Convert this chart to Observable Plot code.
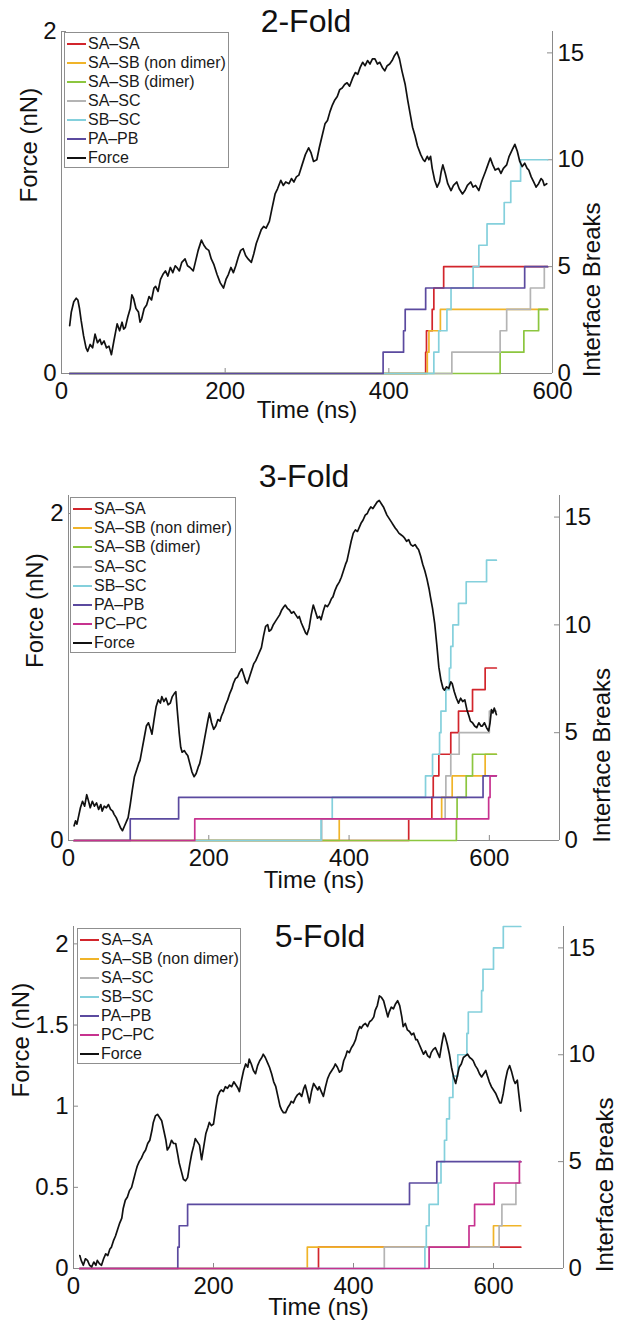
<!DOCTYPE html>
<html><head><meta charset="utf-8">
<script src="https://cdn.jsdelivr.net/npm/d3@7"></script>
<script src="https://cdn.jsdelivr.net/npm/@observablehq/plot@0.6"></script>
<style>
body{margin:0;background:#fff;}
#page{position:relative;width:629px;height:1320px;overflow:hidden;font-family:"Liberation Sans",Arial,Helvetica,sans-serif;background:#fff;}
.panel{position:absolute;left:0;width:629px;overflow:hidden;}
.title{position:absolute;width:240px;text-align:center;font-size:32px;line-height:32px;color:#111;}
.legend{position:absolute;box-sizing:border-box;border:1px solid #8f8f8f;background:#fff;padding-top:1.5px;}
.row{display:flex;align-items:center;font-size:16px;color:#1a1a1a;white-space:nowrap;}
.swatch{width:19px;height:2px;margin-left:2px;margin-right:2px;flex:none;}
</style></head><body><div id="page"></div><script>
// ---------- data ----------
const xTicks = [0, 200, 400, 600];
const breakTicks = [0, 5, 10, 15];
const forceTicks12 = [0, 2];
const forceTicks3 = [0, 0.5, 1, 1.5, 2];

const colors = {
  "SA–SA": "#d2252c",
  "SA–SB (non dimer)": "#f0b429",
  "SA–SB (dimer)": "#8cc63f",
  "SA–SC": "#b4b4b4",
  "SB–SC": "#84d0dc",
  "PA–PB": "#5b4a9f",
  "PC–PC": "#c7328f",
  "Force": "#111111"
};

// 2-Fold
const force2 = [[10,0.28],[12,0.36],[15,0.42],[18,0.44],[20,0.43],[22,0.38],[24,0.31],[27,0.22],[30,0.15],[32,0.13],[35,0.17],[38,0.15],[41,0.23],[44,0.18],[47,0.2],[49,0.17],[52,0.19],[55,0.15],[58,0.16],[61,0.11],[64,0.19],[66,0.24],[68,0.29],[71,0.25],[74,0.3],[76,0.26],[78,0.27],[81,0.33],[84,0.38],[86,0.46],[88,0.44],[91,0.38],[94,0.36],[96,0.3],[98,0.32],[101,0.38],[104,0.4],[107,0.45],[110,0.43],[113,0.5],[115,0.51],[118,0.48],[121,0.55],[124,0.58],[127,0.6],[130,0.57],[133,0.62],[136,0.59],[139,0.63],[141,0.62],[144,0.6],[147,0.65],[151,0.67],[154,0.63],[157,0.62],[161,0.6],[164,0.66],[167,0.72],[171,0.78],[174,0.75],[177,0.73],[180,0.72],[183,0.67],[186,0.64],[190,0.58],[194,0.53],[198,0.5],[201,0.55],[204,0.58],[207,0.62],[210,0.59],[213,0.63],[216,0.68],[219,0.72],[222,0.73],[225,0.69],[228,0.67],[232,0.65],[235,0.7],[238,0.76],[241,0.8],[244,0.84],[247,0.86],[250,0.85],[254,0.89],[257,0.96],[261,1.05],[264,1.08],[268,1.13],[271,1.1],[274,1.12],[278,1.11],[281,1.14],[284,1.12],[287,1.15],[290,1.16],[294,1.22],[298,1.28],[302,1.32],[305,1.29],[308,1.24],[312,1.25],[315,1.32],[318,1.38],[322,1.46],[325,1.48],[328,1.53],[331,1.57],[334,1.6],[337,1.62],[340,1.66],[343,1.67],[346,1.69],[349,1.7],[352,1.68],[356,1.73],[359,1.76],[362,1.75],[365,1.79],[368,1.82],[371,1.8],[374,1.83],[377,1.81],[380,1.84],[383,1.84],[386,1.81],[389,1.82],[392,1.79],[395,1.77],[398,1.8],[401,1.81],[404,1.83],[407,1.86],[410,1.88],[413,1.84],[416,1.77],[420,1.69],[423,1.6],[426,1.52],[429,1.44],[432,1.39],[435,1.33],[439,1.28],[442,1.25],[444,1.24],[447,1.27],[449,1.25],[451,1.27],[453,1.2],[456,1.13],[459,1.09],[462,1.12],[464,1.18],[466,1.22],[469,1.17],[472,1.11],[476,1.07],[479,1.1],[483,1.12],[486,1.08],[490,1.05],[493,1.07],[496,1.1],[500,1.12],[503,1.09],[506,1.1],[510,1.07],[514,1.13],[518,1.18],[521,1.22],[524,1.26],[527,1.22],[530,1.19],[534,1.2],[537,1.17],[540,1.2],[544,1.22],[547,1.27],[551,1.31],[554,1.34],[557,1.3],[560,1.24],[563,1.21],[566,1.23],[569,1.2],[571,1.19],[574,1.15],[577,1.12],[580,1.09],[583,1.11],[586,1.14],[588,1.13],[590,1.1],[593,1.11]];
const breaks2 = [
  ["SA–SA", [[10,0],[445,1],[446,2],[453,3],[455,4],[467,5],[594,5]]],
  ["SA–SB (non dimer)", [[10,0],[447,1],[449,2],[463,3],[594,3]]],
  ["SA–SB (dimer)", [[10,0],[536,1],[565,2],[583,3],[594,3]]],
  ["SA–SC", [[10,0],[477,1],[536,2],[544,3],[573,4],[590,5],[594,5]]],
  ["SB–SC", [[10,0],[455,1],[461,2],[471,3],[476,4],[503,5],[510,6],[520,7],[541,8],[549,9],[561,10],[594,10]]],
  ["PA–PB", [[10,0],[393,1],[418,2],[420,3],[445,4],[566,5],[594,5]]]
];

// 3-Fold
const force3 = [[8,0.09],[10,0.12],[12,0.1],[14,0.14],[17,0.2],[20,0.24],[23,0.21],[26,0.28],[28,0.25],[31,0.2],[34,0.24],[37,0.21],[40,0.23],[43,0.19],[46,0.22],[48,0.18],[51,0.21],[54,0.2],[57,0.22],[60,0.19],[63,0.18],[65,0.16],[68,0.14],[71,0.11],[74,0.08],[77,0.06],[80,0.09],[83,0.12],[85,0.14],[88,0.22],[91,0.31],[94,0.39],[97,0.43],[100,0.47],[102,0.49],[105,0.56],[108,0.63],[111,0.7],[114,0.72],[117,0.68],[119,0.65],[122,0.74],[125,0.82],[128,0.86],[131,0.84],[133,0.88],[136,0.85],[139,0.87],[142,0.83],[145,0.84],[148,0.88],[151,0.9],[153,0.91],[155,0.8],[158,0.65],[160,0.57],[162,0.54],[165,0.55],[168,0.53],[170,0.52],[173,0.47],[176,0.42],[179,0.39],[182,0.41],[185,0.45],[187,0.47],[190,0.53],[193,0.6],[196,0.67],[199,0.74],[201,0.78],[204,0.72],[207,0.68],[210,0.7],[213,0.74],[216,0.73],[218,0.76],[221,0.79],[224,0.83],[227,0.86],[230,0.9],[233,0.93],[235,0.96],[238,0.99],[241,1.0],[244,1.03],[247,1.05],[250,1.01],[253,0.97],[255,0.96],[258,1.0],[261,1.04],[264,1.08],[267,1.1],[270,1.13],[273,1.16],[275,1.18],[278,1.25],[281,1.31],[284,1.32],[286,1.28],[289,1.29],[292,1.32],[295,1.34],[298,1.36],[301,1.38],[304,1.41],[307,1.43],[309,1.44],[312,1.42],[315,1.41],[318,1.39],[321,1.4],[324,1.38],[327,1.36],[329,1.37],[332,1.33],[335,1.3],[338,1.27],[340,1.26],[343,1.3],[346,1.38],[349,1.44],[352,1.4],[355,1.36],[358,1.37],[360,1.35],[363,1.4],[366,1.44],[369,1.43],[372,1.45],[375,1.48],[377,1.49],[380,1.53],[383,1.56],[386,1.58],[389,1.61],[392,1.65],[395,1.69],[397,1.71],[400,1.77],[403,1.83],[406,1.88],[409,1.9],[412,1.89],[415,1.92],[417,1.94],[420,1.96],[423,1.99],[426,2.0],[428,2.02],[431,2.04],[434,2.03],[437,2.05],[440,2.07],[443,2.08],[446,2.06],[449,2.04],[452,2.01],[454,1.99],[457,1.97],[460,1.95],[463,1.93],[466,1.91],[468,1.9],[471,1.88],[474,1.87],[477,1.86],[479,1.85],[482,1.83],[485,1.84],[488,1.81],[491,1.8],[494,1.81],[497,1.79],[499,1.78],[502,1.74],[505,1.69],[508,1.65],[511,1.6],[514,1.54],[516,1.49],[519,1.42],[522,1.33],[525,1.2],[528,1.06],[531,0.98],[534,0.93],[536,0.92],[539,0.94],[542,0.93],[545,0.97],[547,0.96],[550,0.91],[553,0.87],[556,0.84],[559,0.87],[562,0.85],[565,0.86],[568,0.8],[571,0.76],[573,0.73],[576,0.72],[579,0.7],[582,0.69],[585,0.72],[588,0.7],[590,0.7],[593,0.72],[596,0.69],[599,0.67],[601,0.72],[603,0.8],[605,0.78],[607,0.81],[610,0.77]];
const breaks3 = [
  ["SA–SA", [[8,0],[485,1],[518,2],[520,3],[528,4],[545,5],[556,6],[576,7],[594,8],[610,8]]],
  ["SA–SB (non dimer)", [[8,0],[386,1],[532,2],[547,3],[594,4],[610,4]]],
  ["SA–SB (dimer)", [[8,0],[553,1],[554,2],[567,3],[576,4],[610,4]]],
  ["SA–SC", [[8,0],[361,1],[537,2],[538,3],[545,4],[557,5],[600,6],[610,6]]],
  ["SB–SC", [[8,0],[360,1],[376,2],[509,3],[519,4],[529,5],[531,6],[538,7],[543,8],[545,9],[548,10],[556,11],[567,12],[596,13],[610,13]]],
  ["PA–PB", [[8,0],[88,1],[157,2],[591,3],[610,3]]],
  ["PC–PC", [[8,0],[180,1],[599,2],[601,3],[610,3]]]
];

// 5-Fold
const force5 = [[9,0.08],[11,0.05],[14,0.02],[17,0.06],[20,0.05],[23,0.02],[26,0.01],[29,0.04],[32,0.02],[34,0.05],[37,0.03],[40,0.02],[43,0.06],[46,0.09],[49,0.08],[52,0.12],[54,0.13],[57,0.17],[60,0.2],[63,0.24],[66,0.28],[69,0.31],[71,0.37],[74,0.42],[77,0.44],[80,0.48],[83,0.5],[86,0.55],[89,0.6],[91,0.63],[94,0.66],[97,0.68],[100,0.71],[103,0.73],[106,0.77],[109,0.79],[112,0.85],[114,0.9],[117,0.94],[120,0.95],[123,0.93],[126,0.91],[129,0.85],[132,0.79],[134,0.73],[137,0.75],[140,0.79],[143,0.77],[146,0.77],[149,0.7],[151,0.65],[154,0.6],[157,0.55],[160,0.54],[163,0.56],[166,0.64],[169,0.71],[172,0.76],[174,0.8],[177,0.78],[180,0.76],[183,0.67],[186,0.75],[189,0.83],[192,0.87],[194,0.9],[197,0.88],[200,0.89],[203,0.98],[206,1.06],[209,1.09],[211,1.1],[214,1.09],[217,1.12],[220,1.11],[223,1.13],[226,1.12],[229,1.15],[232,1.13],[235,1.11],[237,1.09],[240,1.16],[243,1.22],[246,1.26],[249,1.24],[251,1.29],[254,1.26],[257,1.22],[260,1.2],[263,1.25],[266,1.28],[269,1.3],[271,1.32],[274,1.3],[277,1.27],[280,1.24],[283,1.2],[286,1.15],[289,1.12],[292,1.06],[295,1.0],[297,0.98],[300,0.96],[303,0.96],[306,0.99],[309,1.01],[311,1.03],[314,1.02],[317,1.05],[320,1.07],[323,1.08],[326,1.06],[329,1.11],[331,1.13],[334,1.08],[337,1.02],[340,1.09],[343,1.14],[346,1.12],[349,1.1],[351,1.12],[354,1.09],[357,1.06],[360,1.12],[363,1.17],[366,1.2],[369,1.22],[372,1.24],[374,1.26],[377,1.24],[380,1.21],[383,1.22],[386,1.28],[389,1.31],[391,1.34],[394,1.33],[397,1.36],[400,1.38],[403,1.41],[406,1.46],[409,1.49],[411,1.48],[414,1.5],[417,1.51],[420,1.49],[423,1.52],[426,1.53],[429,1.55],[431,1.59],[434,1.62],[437,1.68],[440,1.67],[443,1.65],[446,1.6],[449,1.55],[451,1.58],[454,1.61],[457,1.6],[460,1.63],[463,1.65],[466,1.62],[469,1.55],[471,1.49],[474,1.51],[477,1.47],[480,1.46],[483,1.44],[486,1.45],[489,1.41],[491,1.41],[494,1.38],[497,1.35],[500,1.32],[503,1.34],[506,1.31],[509,1.3],[511,1.33],[514,1.35],[517,1.36],[520,1.33],[523,1.3],[526,1.38],[529,1.45],[531,1.43],[534,1.38],[537,1.32],[540,1.24],[543,1.18],[546,1.14],[549,1.2],[551,1.24],[554,1.26],[557,1.3],[560,1.31],[563,1.32],[566,1.3],[569,1.29],[571,1.28],[574,1.25],[577,1.23],[580,1.2],[583,1.18],[586,1.2],[589,1.22],[591,1.19],[594,1.15],[597,1.12],[600,1.1],[603,1.08],[606,1.05],[609,1.02],[611,1.02],[614,1.08],[617,1.16],[620,1.22],[623,1.25],[626,1.21],[629,1.16],[631,1.14],[634,1.16],[636,1.08],[639,0.97]];
const breaks5 = [
  ["SA–SA", [[9,0],[350,1],[639,1]]],
  ["SA–SB (non dimer)", [[9,0],[334,1],[600,2],[639,2]]],
  ["SA–SC", [[9,0],[444,1],[608,2],[612,3],[632,4],[639,4]]],
  ["SB–SC", [[9,0],[502,1],[504,2],[508,3],[521,4],[525,5],[530,6],[533,7],[537,8],[542,9],[549,10],[562,11],[564,12],[583,13],[585,14],[600,15],[614,16],[639,16]]],
  ["PA–PB", [[9,0],[149,1],[151,2],[163,3],[480,4],[519,5],[639,5]]],
  ["PC–PC", [[9,0],[508,1],[565,2],[573,3],[601,4],[637,5],[639,5]]]
];

// ---------- layout ----------
const panels = [
  {title:"2-Fold", force:force2, breaks:breaks2, xmax:600, fmax:2, fticks:forceTicks12,
   top:0, height:430, ml:61, mr:77, mt:31, mb:57, fdx:-32, bdx:40, tdy:27,
   titleCx:306, titleTop:5, leg:{left:64, top:32, width:165, row:19}},
  {title:"3-Fold", force:force3, breaks:breaks3, xmax:700, fmax:2.11, fticks:forceTicks12,
   top:440, height:456, ml:68, mr:70, mt:55, mb:56, fdx:-33, bdx:43, tdy:30,
   titleCx:304, titleTop:460, leg:{left:70, top:497, width:166, row:19.2}},
  {title:"5-Fold", force:force5, breaks:breaks5, xmax:700, fmax:2.107, fticks:forceTicks3,
   top:896, height:424, ml:73, mr:66, mt:30, mb:52, fdx:-52, bdx:42, tdy:29,
   titleCx:320, titleTop:920, leg:{left:77, top:928, width:164, row:19}}
];

const page = document.getElementById("page");
const axisGray = "#8a8a8a";

for (const p of panels) {
  const k = p.fmax / 16;
  const W = 629, H = p.height;
  const innerW = W - p.ml - p.mr, innerH = H - p.mt - p.mb;
  const marks = [
    Plot.ruleY([0], {stroke: axisGray, strokeWidth: 1}),
    Plot.ruleX([0], {stroke: axisGray, strokeWidth: 1}),
    Plot.ruleX([p.xmax], {stroke: axisGray, strokeWidth: 1}),
    Plot.tickX(xTicks, {x: d => d, stroke: axisGray, insetTop: innerH - 5}),
    Plot.tickY(p.fticks, {y: d => d, stroke: axisGray, insetRight: innerW - 5}),
    Plot.tickY(breakTicks.map(b => b * k), {y: d => d, stroke: axisGray, insetLeft: innerW - 5}),
    Plot.axisX({ticks: xTicks, tickSize: 0, tickPadding: 8, label: null, fontSize: 24, tickFormat: d => String(d)}),
    Plot.axisY({anchor: "left", ticks: p.fticks, tickSize: 0, tickPadding: 5, label: null, fontSize: 24, tickFormat: d => String(d)}),
    Plot.axisY({anchor: "right", ticks: breakTicks.map(b => b * k), tickSize: 0, tickPadding: 5, label: null, fontSize: 24, tickFormat: d => String(Math.round(d / k))}),
    Plot.text(["Force (nN)"], {text: d => d, frameAnchor: "left", dx: p.fdx, rotate: -90, fontSize: 24, fill: "#111"}),
    Plot.text(["Interface Breaks"], {text: d => d, frameAnchor: "right", dx: p.bdx, rotate: -90, fontSize: 24, fill: "#111"}),
    Plot.text(["Time (ns)"], {text: d => d, frameAnchor: "bottom", lineAnchor: "top", dy: p.tdy, fontSize: 24, fill: "#111"})
  ];
  for (const [name, pts] of p.breaks) {
    marks.push(Plot.line(pts, {x: d => d[0], y: d => d[1] * k, curve: "step-after", stroke: colors[name], strokeWidth: 1.7}));
  }
  marks.push(Plot.line(p.force, {x: d => d[0], y: d => d[1], stroke: colors["Force"], strokeWidth: 1.7}));

  const svg = Plot.plot({
    width: W, height: H,
    marginLeft: p.ml, marginRight: p.mr, marginTop: p.mt, marginBottom: p.mb,
    x: {domain: [0, p.xmax]},
    y: {domain: [0, p.fmax]},
    style: {fontFamily: '"Liberation Sans", Arial, Helvetica, sans-serif', color: "#111", background: "transparent"},
    marks
  });
  const div = document.createElement("div");
  div.className = "panel";
  div.style.top = p.top + "px";
  div.style.height = H + "px";
  div.appendChild(svg);
  page.appendChild(div);

  // legend
  const lg = document.createElement("div");
  lg.className = "legend";
  lg.style.left = p.leg.left + "px";
  lg.style.top = p.leg.top + "px";
  lg.style.width = p.leg.width + "px";
  const names = p.breaks.map(d => d[0]).concat(["Force"]);
  lg.style.height = (names.length * p.leg.row + 2.5) + "px";
  for (const n of names) {
    const r = document.createElement("div");
    r.className = "row";
    r.style.height = p.leg.row + "px";
    const sw = document.createElement("span");
    sw.className = "swatch";
    sw.style.background = colors[n];
    const tx = document.createElement("span");
    tx.textContent = n;
    r.appendChild(sw); r.appendChild(tx);
    lg.appendChild(r);
  }
  page.appendChild(lg);

  // title
  const t = document.createElement("div");
  t.className = "title";
  t.textContent = p.title;
  t.style.left = (p.titleCx - 120) + "px";
  t.style.top = p.titleTop + "px";
  page.appendChild(t);
}
</script></body></html>
